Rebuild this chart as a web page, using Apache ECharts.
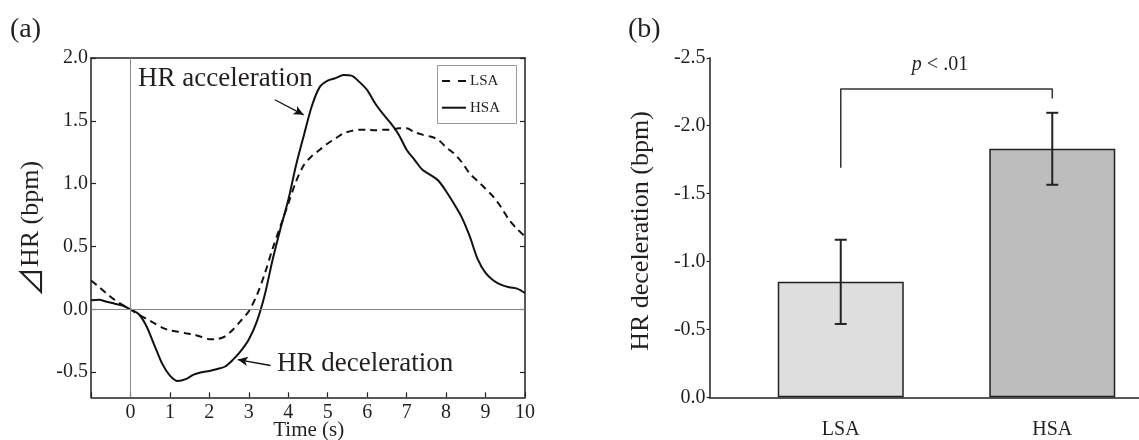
<!DOCTYPE html>
<html><head><meta charset="utf-8">
<script src="https://cdn.jsdelivr.net/npm/echarts@6/dist/echarts.min.js"></script>
<style>html,body{margin:0;padding:0;background:#fff}#c{width:1139px;height:440px}</style>
</head><body><div id="c"></div>
<script>
// ---- Panel (a) data: time (s) and ΔHR (bpm)
const timeS = [-1,-0.8,-0.6,-0.4,-0.2,0,0.2,0.4,0.6,0.8,1,1.2,1.4,1.6,1.8,2,2.2,2.4,2.6,2.8,3,3.2,3.4,3.6,3.8,4,4.2,4.4,4.6,4.8,5,5.2,5.4,5.6,5.8,6,6.2,6.4,6.6,6.8,7,7.2,7.4,7.6,7.8,8,8.2,8.4,8.6,8.8,9,9.2,9.4,9.6,9.8,10];
const hsaHR = [0.072,0.077,0.06,0.045,0.03,0,-0.035,-0.13,-0.28,-0.43,-0.527,-0.57,-0.555,-0.52,-0.5,-0.49,-0.475,-0.455,-0.4,-0.33,-0.24,-0.1,0.11,0.39,0.64,0.87,1.15,1.39,1.62,1.77,1.82,1.84,1.865,1.86,1.81,1.745,1.64,1.555,1.48,1.39,1.27,1.19,1.11,1.07,1.025,0.94,0.84,0.73,0.58,0.4,0.29,0.23,0.195,0.175,0.165,0.13];
const lsaHR = [0.23,0.18,0.125,0.075,0.035,0,-0.04,-0.075,-0.11,-0.145,-0.168,-0.178,-0.19,-0.2,-0.22,-0.238,-0.236,-0.215,-0.16,-0.09,-0.015,0.11,0.28,0.48,0.66,0.84,1.02,1.15,1.22,1.27,1.32,1.36,1.4,1.42,1.43,1.43,1.425,1.43,1.43,1.44,1.44,1.41,1.39,1.375,1.35,1.29,1.24,1.17,1.08,1.02,0.96,0.895,0.81,0.71,0.64,0.58];
const yTicksA = [-0.5,0,0.5,1,1.5,2];
const xTickLabelsA = [0,1,2,3,4,5,6,7,8,9,10];
const seriesNames = ['LSA','HSA'];

// ---- Panel (b) data
const groups = ['LSA','HSA'];
const decelMean = [-0.85,-1.83];
const decelErr = [0.31,0.265];
const bracketY = [-1.69,-2.27,-2.27,-2.2];

const FONT = '"Liberation Serif","Times New Roman",serif';
const TXT = '#231f20';

const chart = echarts.init(document.getElementById('c'), null, {renderer:'canvas'});
const hsaData = timeS.map((t,i)=>[t,hsaHR[i]]);
const lsaData = timeS.map((t,i)=>[t,lsaHR[i]]);

const option = {
  animation:false,
  backgroundColor:'#fff',
  textStyle:{fontFamily:FONT,color:TXT},
  grid:[
    {left:91, top:58, width:434, height:339.3},
    {left:709.6, top:57.8, right:0, height:339.5}
  ],
  xAxis:[
    {gridIndex:0, type:'value', min:-1, max:10, interval:1,
     axisLine:{show:true,onZero:false,lineStyle:{color:'#222',width:1.5}},
     axisTick:{show:true,inside:true,length:5,lineStyle:{color:'#222',width:1.2}},
     axisLabel:{customValues:xTickLabelsA, formatter:v=>String(v), fontFamily:FONT,fontSize:20,color:TXT,margin:5},
     splitLine:{show:false}},
    {gridIndex:0, type:'value', position:'top', min:-1, max:10,
     axisLine:{show:true,onZero:false,lineStyle:{color:'#222',width:1.5}},
     axisTick:{show:false}, axisLabel:{show:false}, splitLine:{show:false}},
    {gridIndex:1, type:'value', min:-0.62, max:1.41,
     axisLine:{show:true,onZero:false,lineStyle:{color:'#222',width:1.5}},
     axisTick:{show:false},
     axisLabel:{customValues:[0,1], formatter:v=>groups[Math.round(v)], fontFamily:FONT,fontSize:20,color:TXT,margin:22},
     splitLine:{show:false}}
  ],
  yAxis:[
    {gridIndex:0, type:'value', min:-0.7, max:2.0,
     axisLine:{show:true,onZero:false,lineStyle:{color:'#222',width:1.5}},
     axisTick:{show:true,inside:true,length:5,customValues:yTicksA,lineStyle:{color:'#222',width:1.2}},
     axisLabel:{customValues:yTicksA, formatter:v=>v.toFixed(1), fontFamily:FONT,fontSize:20,color:TXT,margin:3},
     splitLine:{show:false}},
    {gridIndex:0, type:'value', position:'right', min:-0.7, max:2.0,
     axisLine:{show:true,onZero:false,lineStyle:{color:'#222',width:1.5}},
     axisTick:{show:true,inside:true,length:5,customValues:yTicksA,lineStyle:{color:'#222',width:1.2}},
     axisLabel:{show:false}, splitLine:{show:false}},
    {gridIndex:1, type:'value', min:-2.5, max:0, interval:0.5, inverse:true,
     axisLine:{show:true,onZero:false,lineStyle:{color:'#222',width:1.5}},
     axisTick:{show:true,inside:false,length:3,lineStyle:{color:'#222',width:1.2}},
     axisLabel:{formatter:v=>v.toFixed(1), fontFamily:FONT,fontSize:20,color:TXT,margin:4},
     splitLine:{show:false}}
  ],
  series:[
    {name:seriesNames[0], type:'line', xAxisIndex:0, yAxisIndex:0, data:lsaData, smooth:0.3,
     symbol:'none', lineStyle:{color:'#111',width:2,type:[7,5]}, itemStyle:{color:'#111'},
     markLine:{silent:true, symbol:'none', label:{show:false},
       lineStyle:{color:'#888',width:1,type:'solid'},
       data:[{xAxis:0},{yAxis:0}]}},
    {name:seriesNames[1], type:'line', xAxisIndex:0, yAxisIndex:0, data:hsaData, smooth:0.3,
     symbol:'none', lineStyle:{color:'#111',width:2}, itemStyle:{color:'#111'},
     markLine:{silent:true, symbol:['none','arrow'], symbolSize:[7,10], label:{show:false},
       lineStyle:{color:'#111',width:1.3,type:'solid'},
       data:[
         [{coord:[3.66,1.668]},{coord:[4.39,1.548]}],
         [{coord:[3.55,-0.447]},{coord:[2.72,-0.40]}]
       ]}},
    {name:'bars', type:'bar', xAxisIndex:2, yAxisIndex:2, barWidth:126,
     data:decelMean.map((v,i)=>({value:[i,v], itemStyle:{color: i===0?'#dedede':'#bdbdbd'}})),
     itemStyle:{borderColor:'#222',borderWidth:1.5}},
    {name:'err', type:'custom', xAxisIndex:2, yAxisIndex:2,
     data:decelMean.map((v,i)=>[i, v-decelErr[i], v+decelErr[i]]),
     renderItem:function(params, api){
       const x = api.value(0);
       const a = api.coord([x, api.value(1)]);
       const b = api.coord([x, api.value(2)]);
       const hw = 6;
       const st = {stroke:'#222', lineWidth:2};
       return {type:'group', children:[
         {type:'line', shape:{x1:a[0],y1:a[1],x2:b[0],y2:b[1]}, style:st},
         {type:'line', shape:{x1:a[0]-hw,y1:a[1],x2:a[0]+hw,y2:a[1]}, style:st},
         {type:'line', shape:{x1:b[0]-hw,y1:b[1],x2:b[0]+hw,y2:b[1]}, style:st}
       ]};
     }, z:5},
    {name:'bracket', type:'line', xAxisIndex:2, yAxisIndex:2, symbol:'none',
     data:[[0,bracketY[0]],[0,bracketY[1]],[1,bracketY[2]],[1,bracketY[3]]],
     lineStyle:{color:'#333',width:1.5}}
  ],
  graphic:[
    {type:'text', left:10, top:16, style:{text:'(a)', font:'28px '+FONT, fill:TXT}},
    {type:'text', left:628, top:16, style:{text:'(b)', font:'28px '+FONT, fill:TXT}},
    {type:'text', x:138, y:79, style:{text:'HR acceleration', font:'27px '+FONT, fill:TXT, textAlign:'left', textVerticalAlign:'middle'}},
    {type:'text', x:277, y:364, style:{text:'HR deceleration', font:'27px '+FONT, fill:TXT, textAlign:'left', textVerticalAlign:'middle'}},
    {type:'text', x:308.7, y:430, style:{text:'Time (s)', font:'21px '+FONT, fill:TXT, textAlign:'center', textVerticalAlign:'middle'}},
    {type:'text', x:31, y:229, rotation:Math.PI/2, style:{text:'{t|⊿}HR (bpm)', font:'26px '+FONT, fill:TXT, textAlign:'center', textVerticalAlign:'middle',
      rich:{t:{fontFamily:'"Noto Sans CJK JP","DejaVu Sans",sans-serif', fontSize:30, fill:TXT}}}},
    {type:'text', x:641, y:231, rotation:Math.PI/2, style:{text:'HR deceleration (bpm)', font:'26px '+FONT, fill:TXT, textAlign:'center', textVerticalAlign:'middle'}},
    {type:'text', x:940, y:65, style:{text:'{i|p} < .01', textAlign:'center', textVerticalAlign:'middle', font:'20px '+FONT, fill:TXT,
      rich:{i:{fontStyle:'italic', fontFamily:FONT, fontSize:20, fill:TXT}}}},
    // legend (a)
    {type:'rect', shape:{x:437.5, y:65.5, width:79, height:58}, style:{fill:'#fff', stroke:'#999', lineWidth:1}, z:10},
    {type:'line', shape:{x1:442, y1:81, x2:466, y2:81}, style:{stroke:'#111', lineWidth:2, lineDash:[8,8]}, z:11},
    {type:'line', shape:{x1:442, y1:107.7, x2:466, y2:107.7}, style:{stroke:'#111', lineWidth:2}, z:11},
    {type:'text', x:470, y:81, style:{text:seriesNames[0], font:'15px '+FONT, fill:TXT, textVerticalAlign:'middle'}, z:11},
    {type:'text', x:470, y:107.7, style:{text:seriesNames[1], font:'15px '+FONT, fill:TXT, textVerticalAlign:'middle'}, z:11}
  ]
};
chart.setOption(option);
</script>
</body></html>
